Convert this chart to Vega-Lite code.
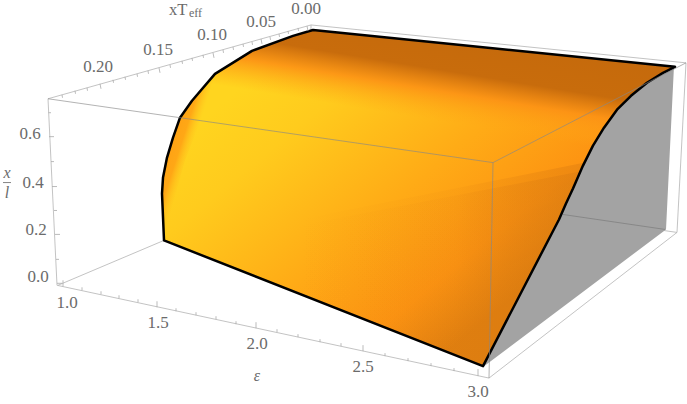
{"$schema":"https://vega.github.io/schema/vega-lite/v6.json","width":687,"height":404,"padding":0,"autosize":{"type":"fit","contains":"padding"},"background":"white","view":{"stroke":null},
"datasets":{
"box":[{"h":310,"v":178,"h2":311,"v2":24},{"h":58,"v":285,"h2":310,"v2":178},{"h":310,"v":178,"h2":677,"v2":232},{"h":48,"v":98,"h2":311,"v2":24},{"h":311,"v":24,"h2":686,"v2":62},{"h":686,"v":62,"h2":677,"v2":232},{"h":48,"v":98,"h2":57,"v2":285},{"h":57,"v":285,"h2":489,"v2":378},{"h":489,"v":378,"h2":677,"v2":232}],
"front":[{"h":48,"v":98,"h2":493,"v2":162},{"h":493,"v":162,"h2":686,"v2":62},{"h":493,"v":162,"h2":489,"v2":378}],
"gray":[{"i":1,"h":674,"v":65},{"i":2,"h":666,"v":229},{"i":3,"h":483,"v":367},{"i":4,"h":559,"v":219},{"i":5,"h":566,"v":203},{"i":6,"h":573,"v":188},{"i":7,"h":583,"v":163},{"i":8,"h":593,"v":143},{"i":9,"h":603,"v":127},{"i":10,"h":617,"v":108},{"i":11,"h":630,"v":95},{"i":12,"h":647,"v":82},{"i":13,"h":663,"v":72}],
"grayline":[{"h":563,"v":214,"h2":665,"v2":229}],
"surface":[{"i":1,"h":164,"v":240},{"i":2,"h":483,"v":366},{"i":3,"h":559,"v":219},{"i":4,"h":566,"v":203},{"i":5,"h":573,"v":188},{"i":6,"h":583,"v":165},{"i":7,"h":593,"v":145},{"i":8,"h":604,"v":127},{"i":9,"h":617,"v":109},{"i":10,"h":631,"v":95},{"i":11,"h":647,"v":82},{"i":12,"h":663,"v":72},{"i":13,"h":675,"v":66},{"i":14,"h":313,"v":29},{"i":15,"h":293,"v":35},{"i":16,"h":252,"v":50},{"i":17,"h":215,"v":73},{"i":18,"h":192,"v":100},{"i":19,"h":180,"v":117},{"i":20,"h":173,"v":137},{"i":21,"h":167,"v":157},{"i":22,"h":163,"v":177},{"i":23,"h":162,"v":193}],
"strip":[{"i":1,"h":222,"v":70},{"i":2,"h":192,"v":100},{"i":3,"h":180,"v":117},{"i":4,"h":173,"v":137},{"i":5,"h":167,"v":157},{"i":6,"h":163,"v":177},{"i":7,"h":162,"v":193},{"i":8,"h":164,"v":238},{"i":9,"h":173,"v":203},{"i":10,"h":185,"v":160},{"i":11,"h":200,"v":122},{"i":12,"h":213,"v":85}],
"band":[{"i":1,"h":300,"v":219},{"i":2,"h":585,"v":162},{"i":3,"h":573,"v":188},{"i":4,"h":483,"v":366},{"i":5,"h":300,"v":292}],
"band2":[{"i":1,"h":300,"v":225},{"i":2,"h":580,"v":171},{"i":3,"h":573,"v":188},{"i":4,"h":483,"v":366},{"i":5,"h":300,"v":292}],
"ticks":[{"h":63,"v":286,"h2":63,"v2":280},{"h":82,"v":290,"h2":82,"v2":287},{"h":101,"v":294,"h2":101,"v2":291},{"h":119,"v":298,"h2":119,"v2":295},{"h":138,"v":302,"h2":138,"v2":299},{"h":157,"v":307,"h2":157,"v2":301},{"h":176,"v":311,"h2":176,"v2":308},{"h":196,"v":315,"h2":196,"v2":312},{"h":216,"v":319,"h2":216,"v2":316},{"h":236,"v":324,"h2":236,"v2":321},{"h":256,"v":328,"h2":256,"v2":322},{"h":277,"v":332,"h2":277,"v2":329},{"h":298,"v":337,"h2":298,"v2":334},{"h":320,"v":342,"h2":320,"v2":339},{"h":341,"v":346,"h2":341,"v2":343},{"h":363,"v":351,"h2":363,"v2":345},{"h":385,"v":356,"h2":385,"v2":353},{"h":408,"v":361,"h2":408,"v2":358},{"h":431,"v":366,"h2":431,"v2":363},{"h":454,"v":371,"h2":454,"v2":368},{"h":478,"v":376,"h2":478,"v2":369},
{"h":48.5,"v":112,"h2":51,"v2":112},{"h":49,"v":136,"h2":54,"v2":136},{"h":51,"v":161,"h2":54,"v2":161},{"h":52,"v":186,"h2":57,"v2":186},{"h":54,"v":210,"h2":57,"v2":210},{"h":55,"v":234,"h2":60,"v2":234},{"h":56,"v":259,"h2":59,"v2":259},{"h":57,"v":283,"h2":62,"v2":283},
{"h":100,"v":83,"h2":101,"v2":88},{"h":159,"v":67,"h2":160,"v2":72},{"h":213,"v":52,"h2":214,"v2":57},{"h":261,"v":38,"h2":262,"v2":43},{"h":307,"v":25,"h2":308,"v2":30},{"h":87,"v":87,"h2":87.5,"v2":90},{"h":75,"v":90,"h2":75.5,"v2":93},{"h":62,"v":94,"h2":62.5,"v2":97},{"h":113,"v":79,"h2":113.5,"v2":82},{"h":125,"v":76,"h2":125.5,"v2":79},{"h":137,"v":73,"h2":137.5,"v2":76},{"h":148,"v":70,"h2":148.5,"v2":73},{"h":170,"v":64,"h2":170.5,"v2":67},{"h":182,"v":60,"h2":182.5,"v2":63},{"h":192,"v":57,"h2":192.5,"v2":60},{"h":203,"v":54,"h2":203.5,"v2":57},{"h":223,"v":49,"h2":223.5,"v2":52},{"h":233,"v":46,"h2":233.5,"v2":49},{"h":243,"v":43,"h2":243.5,"v2":46},{"h":252,"v":41,"h2":252.5,"v2":44},{"h":270,"v":36,"h2":270.5,"v2":39},{"h":279,"v":33,"h2":279.5,"v2":36},{"h":288,"v":30,"h2":288.5,"v2":33},{"h":298,"v":27,"h2":298.5,"v2":30}],
"labels":[{"h":306,"v":8,"t":"0.00"},{"h":261,"v":21,"t":"0.05"},{"h":212,"v":34,"t":"0.10"},{"h":158,"v":49,"t":"0.15"},{"h":98,"v":66,"t":"0.20"},{"h":30,"v":133,"t":"0.6"},{"h":33,"v":182,"t":"0.4"},{"h":36,"v":230,"t":"0.2"},{"h":38,"v":277,"t":"0.0"},{"h":67,"v":303,"t":"1.0"},{"h":158,"v":323,"t":"1.5"},{"h":257,"v":344,"t":"2.0"},{"h":363,"v":367,"t":"2.5"},{"h":478,"v":392,"t":"3.0"}],
"titles":[{"h":7,"v":172,"t":"x"},{"h":7,"v":192,"t":"l"},{"h":257,"v":376,"t":"ε"}],
"xt":[{"h":169,"v":9,"t":"xT"}],"eff":[{"h":189,"v":12,"t":"eff"}],
"bar":[{"h":3,"v":182,"h2":11,"v2":182}]
},
"encoding":{"x":{"field":"h","type":"quantitative","axis":null,"scale":{"domain":[0,687],"nice":false,"zero":false}},"y":{"field":"v","type":"quantitative","axis":null,"scale":{"domain":[404,0],"nice":false,"zero":false}}},
"layer":[
{"data":{"name":"box"},"mark":{"type":"rule","color":"#b4b4b4","strokeWidth":0.8},"encoding":{"x2":{"field":"h2"},"y2":{"field":"v2"}}},
{"data":{"name":"gray"},"mark":{"type":"line","interpolate":"linear-closed","stroke":null,"fill":"#a3a3a3"},"encoding":{"order":{"field":"i"}}},
{"data":{"name":"grayline"},"mark":{"type":"rule","color":"#808080","strokeWidth":0.8},"encoding":{"x2":{"field":"h2"},"y2":{"field":"v2"}}},
{"data":{"name":"surface"},"mark":{"type":"line","interpolate":"linear-closed","stroke":null,"fill":{"gradient":"linear","x1":0.05,"y1":0.3,"x2":0.68,"y2":0.8,"stops":[{"offset":0,"color":"#ffd51f"},{"offset":0.2,"color":"#ffcb1d"},{"offset":0.55,"color":"#ffab16"},{"offset":0.82,"color":"#fd9412"},{"offset":1,"color":"#e07f10"}]}},"encoding":{"order":{"field":"i"}}},
{"data":{"name":"strip"},"mark":{"type":"line","interpolate":"linear-closed","stroke":null,"fill":{"gradient":"linear","x1":0.07,"y1":0.19,"x2":0.44,"y2":0.525,"stops":[{"offset":0,"color":"rgba(255,150,18,1)"},{"offset":0.7,"color":"rgba(255,160,20,0.85)"},{"offset":1,"color":"rgba(255,190,28,0)"}]}},"encoding":{"order":{"field":"i"}}},
{"data":{"name":"band"},"mark":{"type":"line","interpolate":"linear-closed","stroke":null,"fill":{"gradient":"linear","x1":0,"y1":0,"x2":1,"y2":0,"stops":[{"offset":0,"color":"rgba(217,122,16,0)"},{"offset":0.55,"color":"rgba(217,122,16,0.08)"},{"offset":1,"color":"rgba(217,122,16,0.42)"}]}},"encoding":{"order":{"field":"i"}}},
{"data":{"name":"band2"},"mark":{"type":"line","interpolate":"linear-closed","stroke":null,"fill":{"gradient":"linear","x1":0,"y1":0,"x2":1,"y2":0,"stops":[{"offset":0,"color":"rgba(217,122,16,0)"},{"offset":0.55,"color":"rgba(217,122,16,0.08)"},{"offset":1,"color":"rgba(217,122,16,0.42)"}]}},"encoding":{"order":{"field":"i"}}},
{"data":{"name":"surface"},"mark":{"type":"line","interpolate":"linear-closed","stroke":null,"fill":{"gradient":"linear","x1":0.242,"y1":-0.132,"x2":0.117,"y2":0.368,"stops":[{"offset":0,"color":"rgba(196,105,12,1)"},{"offset":0.33,"color":"rgba(200,108,12,1)"},{"offset":0.45,"color":"rgba(252,146,21,0.9)"},{"offset":0.62,"color":"rgba(255,169,22,0)"}]}},"encoding":{"order":{"field":"i"}}},
{"data":{"name":"surface"},"mark":{"type":"line","interpolate":"linear-closed","color":"black","strokeWidth":2.5,"strokeJoin":"round"},"encoding":{"order":{"field":"i"}}},
{"data":{"name":"front"},"mark":{"type":"rule","color":"#888888","opacity":0.8,"strokeWidth":0.8},"encoding":{"x2":{"field":"h2"},"y2":{"field":"v2"}}},
{"data":{"name":"ticks"},"mark":{"type":"rule","color":"#aaaaaa","strokeWidth":0.8},"encoding":{"x2":{"field":"h2"},"y2":{"field":"v2"}}},
{"data":{"name":"bar"},"mark":{"type":"rule","color":"#666666","strokeWidth":0.8},"encoding":{"x2":{"field":"h2"},"y2":{"field":"v2"}}},
{"data":{"name":"labels"},"mark":{"type":"text","font":"'Liberation Serif', 'Times New Roman', serif","fontSize":17,"color":"#6b6b6b"},"encoding":{"text":{"field":"t"}}},
{"data":{"name":"titles"},"mark":{"type":"text","font":"'Liberation Serif', 'Times New Roman', serif","fontStyle":"italic","fontSize":16,"color":"#6b6b6b"},"encoding":{"text":{"field":"t"}}},
{"data":{"name":"xt"},"mark":{"type":"text","font":"'Liberation Serif', 'Times New Roman', serif","fontSize":16.5,"color":"#6b6b6b","align":"left"},"encoding":{"text":{"field":"t"}}},
{"data":{"name":"eff"},"mark":{"type":"text","font":"'Liberation Serif', 'Times New Roman', serif","fontSize":12,"color":"#6b6b6b","align":"left"},"encoding":{"text":{"field":"t"}}}
]}
